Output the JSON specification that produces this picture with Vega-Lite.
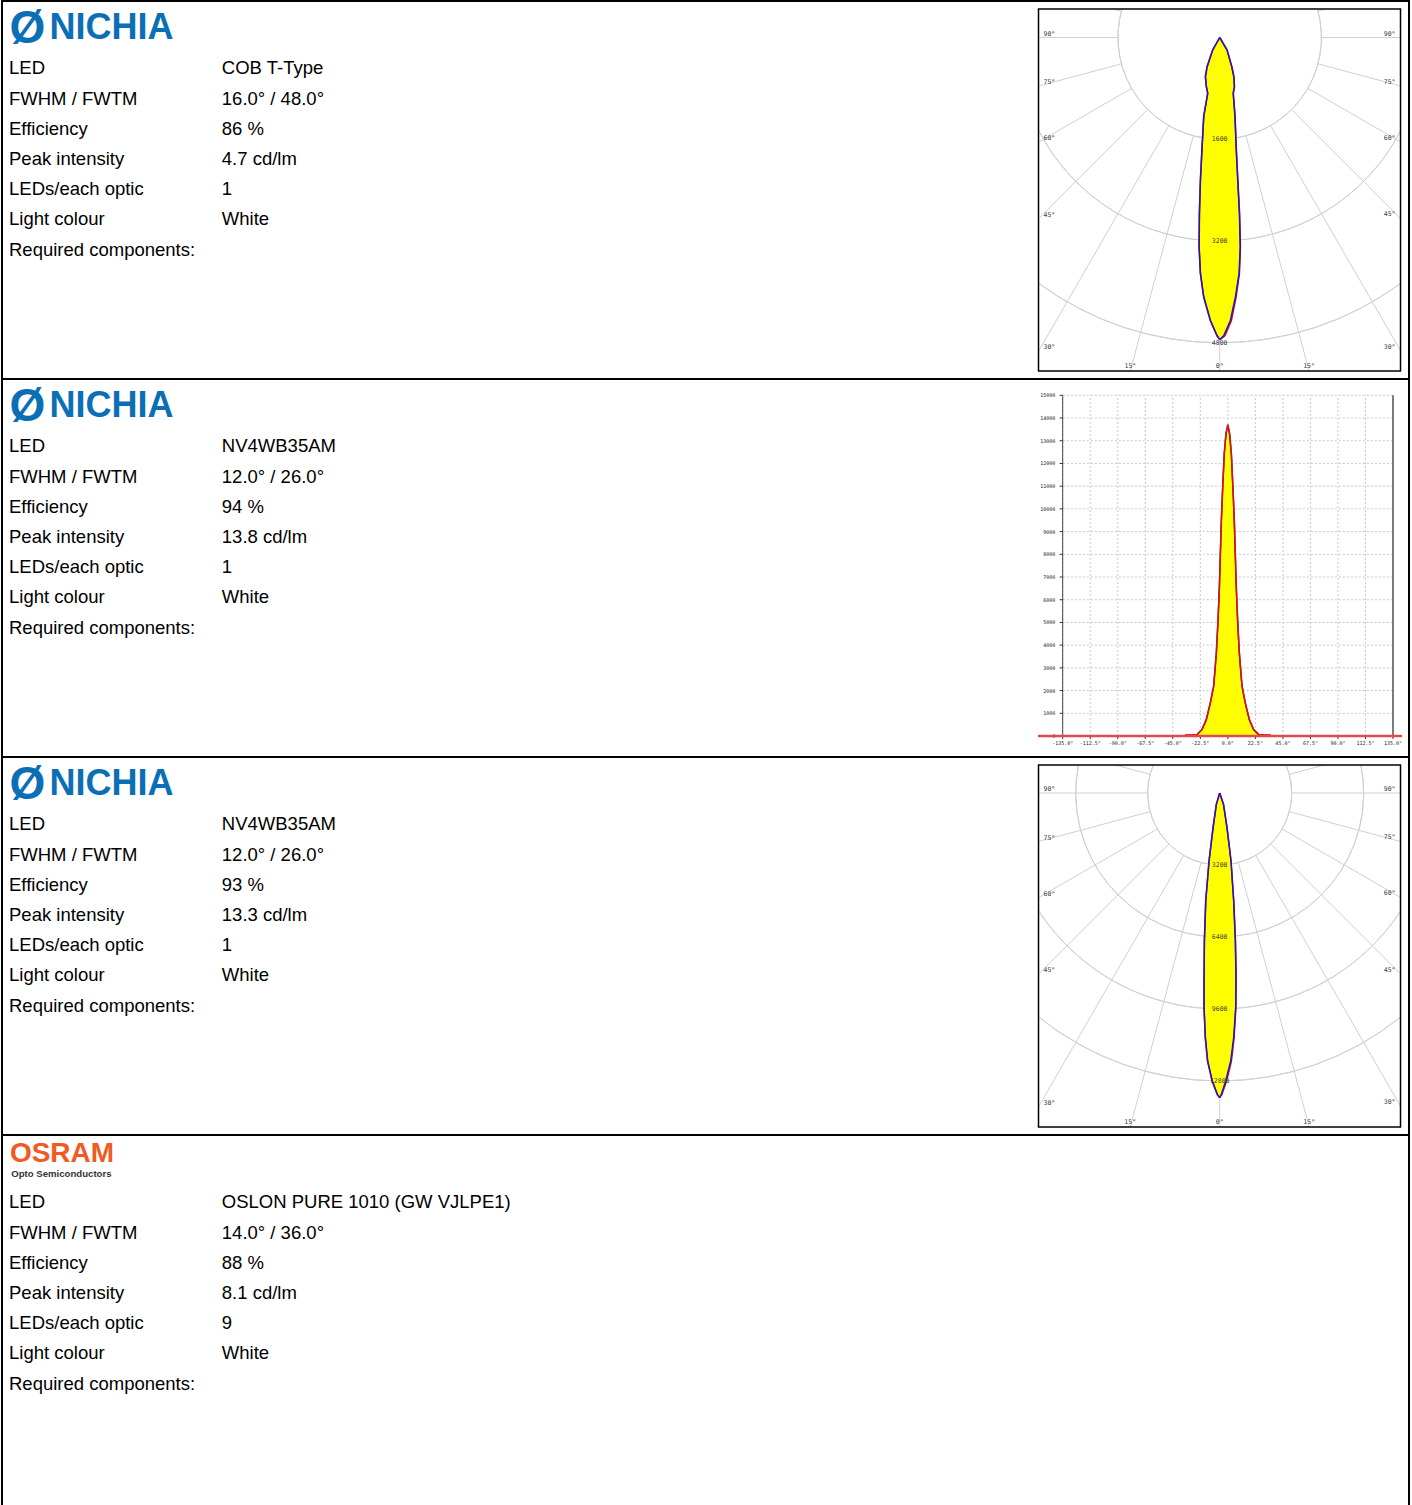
{
"$schema": "https://vega.github.io/schema/vega-lite/v6.json",
"background": "white",
"padding": {"left": 1, "top": 0, "right": 0, "bottom": 0},
"spacing": 0,
"bounds": "flush",
"config": {"view": {"stroke": null}, "font": "Liberation Sans"},
"datasets": {
"specs": [
{"product":1,"item":"LED","value":"COB T-Type"},
{"product":1,"item":"FWHM / FWTM","value":"16.0° / 48.0°"},
{"product":1,"item":"Efficiency","value":"86 %"},
{"product":1,"item":"Peak intensity","value":"4.7 cd/lm"},
{"product":1,"item":"LEDs/each optic","value":"1"},
{"product":1,"item":"Light colour","value":"White"},
{"product":1,"item":"Required components:","value":""},
{"product":2,"item":"LED","value":"NV4WB35AM"},
{"product":2,"item":"FWHM / FWTM","value":"12.0° / 26.0°"},
{"product":2,"item":"Efficiency","value":"94 %"},
{"product":2,"item":"Peak intensity","value":"13.8 cd/lm"},
{"product":2,"item":"LEDs/each optic","value":"1"},
{"product":2,"item":"Light colour","value":"White"},
{"product":2,"item":"Required components:","value":""},
{"product":3,"item":"LED","value":"NV4WB35AM"},
{"product":3,"item":"FWHM / FWTM","value":"12.0° / 26.0°"},
{"product":3,"item":"Efficiency","value":"93 %"},
{"product":3,"item":"Peak intensity","value":"13.3 cd/lm"},
{"product":3,"item":"LEDs/each optic","value":"1"},
{"product":3,"item":"Light colour","value":"White"},
{"product":3,"item":"Required components:","value":""},
{"product":4,"item":"LED","value":"OSLON PURE 1010 (GW VJLPE1)"},
{"product":4,"item":"FWHM / FWTM","value":"14.0° / 36.0°"},
{"product":4,"item":"Efficiency","value":"88 %"},
{"product":4,"item":"Peak intensity","value":"8.1 cd/lm"},
{"product":4,"item":"LEDs/each optic","value":"9"},
{"product":4,"item":"Light colour","value":"White"},
{"product":4,"item":"Required components:","value":""}
],
"brands": [
{"product":1,"part":"symbol","text":"Ø"},
{"product":1,"part":"name","text":"NICHIA"},
{"product":2,"part":"symbol","text":"Ø"},
{"product":2,"part":"name","text":"NICHIA"},
{"product":3,"part":"symbol","text":"Ø"},
{"product":3,"part":"name","text":"NICHIA"},
{"product":4,"part":"name","text":"OSRAM"},
{"product":4,"part":"tagline","text":"Opto Semiconductors"}
],
"polar1Rings": [{"ring":1600,"from":73.7,"to":286.3},{"ring":3200,"from":117.3,"to":242.9},{"ring":4800,"from":143.7,"to":216.4}],
"polar3Rings": [{"ring":3200,"from":67.1,"to":292.9},{"ring":6400,"from":78.8,"to":281.2},{"ring":9600,"from":123.2,"to":237.0},{"ring":12800,"from":141.1,"to":219.0}],
"polar1Grid": [
{"angle":-105,"label":"105°","edge":"top","x1":-1545.5,"y1":-414.1,"x2":-1672,"y2":-448},
{"angle":-90,"label":"90°","edge":"left","x1":-1600,"y1":0,"x2":-2849,"y2":0},
{"angle":-75,"label":"75°","edge":"left","x1":-1545.5,"y1":414.1,"x2":-2849,"y2":763.4},
{"angle":-60,"label":"60°","edge":"left","x1":-1385.6,"y1":800,"x2":-2849,"y2":1644.9},
{"angle":-45,"label":"45°","edge":"left","x1":-1131.4,"y1":1131.4,"x2":-2849,"y2":2849},
{"angle":-30,"label":"30°","edge":"left","x1":-800,"y1":1385.6,"x2":-2849,"y2":4934.6},
{"angle":-15,"label":"15°","edge":"bottom","x1":-414.1,"y1":1545.5,"x2":-1405,"y2":5244},
{"angle":0,"label":"0°","edge":"bottom","x1":0,"y1":1600,"x2":0,"y2":5244},
{"angle":15,"label":"15°","edge":"bottom","x1":414.1,"y1":1545.5,"x2":1405,"y2":5244},
{"angle":30,"label":"30°","edge":"right","x1":800,"y1":1385.6,"x2":2843,"y2":4924},
{"angle":45,"label":"45°","edge":"right","x1":1131.4,"y1":1131.4,"x2":2843,"y2":2843},
{"angle":60,"label":"60°","edge":"right","x1":1385.6,"y1":800,"x2":2843,"y2":1641.5},
{"angle":75,"label":"75°","edge":"right","x1":1545.5,"y1":414.1,"x2":2843,"y2":761.8},
{"angle":90,"label":"90°","edge":"right","x1":1600,"y1":0,"x2":2843,"y2":0},
{"angle":105,"label":"105°","edge":"top","x1":1545.5,"y1":-414.1,"x2":1672,"y2":-448}
],
"polar3Grid": [
{"angle":-105,"label":"105°","edge":"top","x1":-3091,"y1":-828.2,"x2":-4643,"y2":-1244},
{"angle":-90,"label":"90°","edge":"left","x1":-3200,"y1":0,"x2":-8053,"y2":0},
{"angle":-75,"label":"75°","edge":"left","x1":-3091,"y1":828.2,"x2":-8053,"y2":2158},
{"angle":-60,"label":"60°","edge":"left","x1":-2771.3,"y1":1600,"x2":-8053,"y2":4649},
{"angle":-45,"label":"45°","edge":"left","x1":-2262.7,"y1":2262.7,"x2":-8053,"y2":8053},
{"angle":-30,"label":"30°","edge":"left","x1":-1600,"y1":2771.3,"x2":-8053,"y2":13948},
{"angle":-15,"label":"15°","edge":"bottom","x1":-828.2,"y1":3091,"x2":-3977,"y2":14844},
{"angle":0,"label":"0°","edge":"bottom","x1":0,"y1":3200,"x2":0,"y2":14844},
{"angle":15,"label":"15°","edge":"bottom","x1":828.2,"y1":3091,"x2":3977,"y2":14844},
{"angle":30,"label":"30°","edge":"right","x1":1600,"y1":2771.3,"x2":8036,"y2":13919},
{"angle":45,"label":"45°","edge":"right","x1":2262.7,"y1":2262.7,"x2":8036,"y2":8036},
{"angle":60,"label":"60°","edge":"right","x1":2771.3,"y1":1600,"x2":8036,"y2":4640},
{"angle":75,"label":"75°","edge":"right","x1":3091,"y1":828.2,"x2":8036,"y2":2153},
{"angle":90,"label":"90°","edge":"right","x1":3200,"y1":0,"x2":8036,"y2":0},
{"angle":105,"label":"105°","edge":"top","x1":3091,"y1":-828.2,"x2":4643,"y2":-1244}
],
"polar1Lobe": [
{"series":"C0-C180","depth":0,"left":0,"right":0},
{"series":"C0-C180","depth":194,"left":-110,"right":115},
{"series":"C0-C180","depth":460,"left":-199,"right":190},
{"series":"C0-C180","depth":614,"left":-226,"right":222},
{"series":"C0-C180","depth":772,"left":-210,"right":231},
{"series":"C0-C180","depth":877,"left":-189,"right":212},
{"series":"C0-C180","depth":1240,"left":-252,"right":240},
{"series":"C0-C180","depth":1720,"left":-278,"right":258},
{"series":"C0-C180","depth":2240,"left":-304,"right":283},
{"series":"C0-C180","depth":2770,"left":-320,"right":310},
{"series":"C0-C180","depth":3290,"left":-325,"right":323},
{"series":"C0-C180","depth":3710,"left":-304,"right":305},
{"series":"C0-C180","depth":4080,"left":-252,"right":247},
{"series":"C0-C180","depth":4450,"left":-147,"right":168},
{"series":"C0-C180","depth":4690,"left":-42,"right":63},
{"series":"C0-C180","depth":4750,"left":0,"right":0},
{"series":"C90-C270","depth":0,"left":0,"right":0},
{"series":"C90-C270","depth":194,"left":-108,"right":114},
{"series":"C90-C270","depth":460,"left":-197,"right":191},
{"series":"C90-C270","depth":614,"left":-224,"right":223},
{"series":"C90-C270","depth":772,"left":-209,"right":233},
{"series":"C90-C270","depth":877,"left":-188,"right":214},
{"series":"C90-C270","depth":1240,"left":-250,"right":242},
{"series":"C90-C270","depth":1720,"left":-276,"right":260},
{"series":"C90-C270","depth":2240,"left":-302,"right":286},
{"series":"C90-C270","depth":2770,"left":-318,"right":313},
{"series":"C90-C270","depth":3290,"left":-323,"right":326},
{"series":"C90-C270","depth":3710,"left":-302,"right":310},
{"series":"C90-C270","depth":4080,"left":-250,"right":258},
{"series":"C90-C270","depth":4450,"left":-146,"right":184},
{"series":"C90-C270","depth":4690,"left":-40,"right":82},
{"series":"C90-C270","depth":4750,"left":0,"right":0}
],
"polar3Lobe": [
{"series":"C0-C180","depth":0,"left":0,"right":0},
{"series":"C0-C180","depth":504,"left":-150,"right":170},
{"series":"C0-C180","depth":1541,"left":-296,"right":326},
{"series":"C0-C180","depth":3022,"left":-474,"right":504},
{"series":"C0-C180","depth":4800,"left":-622,"right":622},
{"series":"C0-C180","depth":6578,"left":-681,"right":696},
{"series":"C0-C180","depth":8207,"left":-696,"right":725},
{"series":"C0-C180","depth":9541,"left":-696,"right":711},
{"series":"C0-C180","depth":10874,"left":-637,"right":622},
{"series":"C0-C180","depth":11911,"left":-533,"right":489},
{"series":"C0-C180","depth":12800,"left":-341,"right":267},
{"series":"C0-C180","depth":13393,"left":-104,"right":74},
{"series":"C0-C180","depth":13541,"left":0,"right":0},
{"series":"C90-C270","depth":0,"left":0,"right":0},
{"series":"C90-C270","depth":504,"left":-148,"right":168},
{"series":"C90-C270","depth":1541,"left":-294,"right":324},
{"series":"C90-C270","depth":3022,"left":-472,"right":502},
{"series":"C90-C270","depth":4800,"left":-620,"right":624},
{"series":"C90-C270","depth":6578,"left":-680,"right":700},
{"series":"C90-C270","depth":8207,"left":-695,"right":730},
{"series":"C90-C270","depth":9541,"left":-697,"right":718},
{"series":"C90-C270","depth":10874,"left":-640,"right":640},
{"series":"C90-C270","depth":11911,"left":-545,"right":520},
{"series":"C90-C270","depth":12800,"left":-325,"right":305},
{"series":"C90-C270","depth":13393,"left":-112,"right":98},
{"series":"C90-C270","depth":13541,"left":0,"right":0}
],
"cart2Angles": [
{"angle":-135,"label":"-135.0°"},{"angle":-112.5,"label":"-112.5°"},{"angle":-90,"label":"-90.0°"},{"angle":-67.5,"label":"-67.5°"},{"angle":-45,"label":"-45.0°"},{"angle":-22.5,"label":"-22.5°"},{"angle":0,"label":"0.0°"},{"angle":22.5,"label":"22.5°"},{"angle":45,"label":"45.0°"},{"angle":67.5,"label":"67.5°"},{"angle":90,"label":"90.0°"},{"angle":112.5,"label":"112.5°"},{"angle":135,"label":"135.0°"}
],
"cart2Levels": [{"intensity":0},{"intensity":1000},{"intensity":2000},{"intensity":3000},{"intensity":4000},{"intensity":5000},{"intensity":6000},{"intensity":7000},{"intensity":8000},{"intensity":9000},{"intensity":10000},{"intensity":11000},{"intensity":12000},{"intensity":13000},{"intensity":14000},{"intensity":15000}],
"cart2": [
{"series":"C0-C180","angle":-35,"intensity":40},
{"series":"C0-C180","angle":-30,"intensity":45},
{"series":"C0-C180","angle":-25.2,"intensity":70},
{"series":"C0-C180","angle":-21.1,"intensity":290},
{"series":"C0-C180","angle":-17.6,"intensity":730},
{"series":"C0-C180","angle":-14.3,"intensity":1470},
{"series":"C0-C180","angle":-11.6,"intensity":2200},
{"series":"C0-C180","angle":-9.4,"intensity":3670},
{"series":"C0-C180","angle":-8.0,"intensity":5140},
{"series":"C0-C180","angle":-6.9,"intensity":6600},
{"series":"C0-C180","angle":-6.1,"intensity":8070},
{"series":"C0-C180","angle":-5.3,"intensity":9540},
{"series":"C0-C180","angle":-4.2,"intensity":11000},
{"series":"C0-C180","angle":-2.9,"intensity":12480},
{"series":"C0-C180","angle":-1.5,"intensity":13350},
{"series":"C0-C180","angle":0,"intensity":13720},
{"series":"C0-C180","angle":1.5,"intensity":13300},
{"series":"C0-C180","angle":2.9,"intensity":12400},
{"series":"C0-C180","angle":4.2,"intensity":10900},
{"series":"C0-C180","angle":5.3,"intensity":9450},
{"series":"C0-C180","angle":6.1,"intensity":8000},
{"series":"C0-C180","angle":6.9,"intensity":6550},
{"series":"C0-C180","angle":8.0,"intensity":5100},
{"series":"C0-C180","angle":9.4,"intensity":3650},
{"series":"C0-C180","angle":11.6,"intensity":2200},
{"series":"C0-C180","angle":14.3,"intensity":1450},
{"series":"C0-C180","angle":17.6,"intensity":720},
{"series":"C0-C180","angle":21.1,"intensity":280},
{"series":"C0-C180","angle":25.2,"intensity":70},
{"series":"C0-C180","angle":30,"intensity":45},
{"series":"C0-C180","angle":35,"intensity":40},
{"series":"C90-C270","angle":-35,"intensity":35},
{"series":"C90-C270","angle":-30,"intensity":40},
{"series":"C90-C270","angle":-25.2,"intensity":65},
{"series":"C90-C270","angle":-21.1,"intensity":280},
{"series":"C90-C270","angle":-17.6,"intensity":720},
{"series":"C90-C270","angle":-14.3,"intensity":1460},
{"series":"C90-C270","angle":-11.6,"intensity":2190},
{"series":"C90-C270","angle":-9.4,"intensity":3650},
{"series":"C90-C270","angle":-8.0,"intensity":5120},
{"series":"C90-C270","angle":-6.9,"intensity":6580},
{"series":"C90-C270","angle":-6.1,"intensity":8040},
{"series":"C90-C270","angle":-5.3,"intensity":9500},
{"series":"C90-C270","angle":-4.2,"intensity":10950},
{"series":"C90-C270","angle":-2.9,"intensity":12430},
{"series":"C90-C270","angle":-1.5,"intensity":13300},
{"series":"C90-C270","angle":0,"intensity":13680},
{"series":"C90-C270","angle":1.5,"intensity":13260},
{"series":"C90-C270","angle":2.9,"intensity":12380},
{"series":"C90-C270","angle":4.2,"intensity":10880},
{"series":"C90-C270","angle":5.3,"intensity":9420},
{"series":"C90-C270","angle":6.1,"intensity":7980},
{"series":"C90-C270","angle":6.9,"intensity":6530},
{"series":"C90-C270","angle":8.0,"intensity":5080},
{"series":"C90-C270","angle":9.4,"intensity":3630},
{"series":"C90-C270","angle":11.6,"intensity":2180},
{"series":"C90-C270","angle":14.3,"intensity":1440},
{"series":"C90-C270","angle":17.6,"intensity":710},
{"series":"C90-C270","angle":21.1,"intensity":275},
{"series":"C90-C270","angle":25.2,"intensity":65},
{"series":"C90-C270","angle":30,"intensity":40},
{"series":"C90-C270","angle":35,"intensity":35}
]
},
"vconcat": [
{
"width": 1407, "height": 378,
"view": {"stroke": "#000000", "strokeWidth": 2},
"resolve": {"scale": {"x": "independent", "y": "independent"}},
"layer": [
{"layer": [
{"data": {"name": "brands"}, "transform": [{"filter": "datum.product == 1 && datum.part == 'symbol'"}],
 "mark": {"type": "text", "align": "left", "baseline": "middle", "font": "Liberation Sans", "fontWeight": "bold", "fontSize": 46, "color": "#0b6fb6", "dx": 0.5, "dy": -9.5},
 "encoding": {"x": {"datum": "label", "type": "ordinal", "scale": {"type": "point", "domain": ["label","value"], "range": [7, 219.8], "padding": 0}, "axis": null},
  "y": {"datum": "logo", "type": "ordinal", "scale": {"type": "point", "domain": ["logo","LED","FWHM / FWTM","Efficiency","Peak intensity","LEDs/each optic","Light colour","Required components:"], "range": [37.3, 248.5], "padding": 0}, "axis": null},
  "text": {"field": "text"}}},
{"data": {"name": "brands"}, "transform": [{"filter": "datum.product == 1 && datum.part == 'name'"}],
 "mark": {"type": "text", "align": "left", "baseline": "middle", "font": "Liberation Sans", "fontWeight": "bold", "fontSize": 36, "color": "#0b6fb6", "dx": 40.6, "dy": -10},
 "encoding": {"x": {"datum": "label", "type": "ordinal", "axis": null}, "y": {"datum": "logo", "type": "ordinal", "axis": null}, "text": {"field": "text"}}},
{"data": {"name": "specs"}, "transform": [{"filter": "datum.product == 1"}],
 "mark": {"type": "text", "align": "left", "baseline": "middle", "font": "Liberation Sans", "fontSize": 18.5, "color": "#000000"},
 "encoding": {"x": {"datum": "label", "type": "ordinal", "axis": null}, "y": {"field": "item", "type": "ordinal", "axis": null}, "text": {"field": "item"}}},
{"data": {"name": "specs"}, "transform": [{"filter": "datum.product == 1"}],
 "mark": {"type": "text", "align": "left", "baseline": "middle", "font": "Liberation Sans", "fontSize": 18.5, "color": "#000000"},
 "encoding": {"x": {"datum": "value", "type": "ordinal", "axis": null}, "y": {"field": "item", "type": "ordinal", "axis": null}, "text": {"field": "value"}}}
]},
{"layer": [
{"data": {"name": "polar1Rings"},
 "mark": {"type": "arc", "filled": false, "color": "#d0d0d0", "strokeWidth": 1},
 "encoding": {
  "x": {"datum": 0, "type": "quantitative", "scale": {"domain": [-19146.2, 2976.4], "nice": false, "zero": false}, "axis": null},
  "y": {"datum": 0, "type": "quantitative", "scale": {"domain": [-573.9, 5369.5], "nice": false, "zero": false, "reverse": true}, "axis": null},
  "theta": {"field": "from", "type": "quantitative", "scale": {"domain": [0, 360]}},
  "theta2": {"field": "to"},
  "radius": {"field": "ring", "type": "quantitative", "scale": {"type": "linear", "domain": [0, 4800], "range": [0, 305.3]}},
  "radius2": {"field": "ring"}}},
{"data": {"name": "polar1Grid"},
 "mark": {"type": "rule", "color": "#d0d0d0", "strokeWidth": 1},
 "encoding": {"x": {"field": "x1", "type": "quantitative", "axis": null}, "y": {"field": "y1", "type": "quantitative", "axis": null}, "x2": {"field": "x2"}, "y2": {"field": "y2"}}},
{"data": {"name": "polar1Lobe"}, "transform": [{"filter": "datum.series == 'C0-C180'"}],
 "mark": {"type": "area", "orient": "horizontal", "color": "#ffff00", "opacity": 1},
 "encoding": {"y": {"field": "depth", "type": "quantitative", "axis": null}, "x": {"field": "left", "type": "quantitative", "axis": null}, "x2": {"field": "right"}}},
{"data": {"name": "polar1Lobe"}, "transform": [{"filter": "datum.series == 'C90-C270'"}, {"fold": ["left", "right"], "as": ["side", "xpos"]}],
 "mark": {"type": "line", "color": "#e00000", "strokeWidth": 1.5},
 "encoding": {"x": {"field": "xpos", "type": "quantitative", "axis": null}, "y": {"field": "depth", "type": "quantitative", "axis": null}, "detail": {"field": "side"}, "order": {"field": "depth", "type": "quantitative"}}},
{"data": {"name": "polar1Lobe"}, "transform": [{"filter": "datum.series == 'C0-C180'"}, {"fold": ["left", "right"], "as": ["side", "xpos"]}],
 "mark": {"type": "line", "color": "#1a1acc", "strokeWidth": 1.5},
 "encoding": {"x": {"field": "xpos", "type": "quantitative", "axis": null}, "y": {"field": "depth", "type": "quantitative", "axis": null}, "detail": {"field": "side"}, "order": {"field": "depth", "type": "quantitative"}}},
{"data": {"name": "polar1Rings"},
 "mark": {"type": "text", "align": "center", "baseline": "middle", "font": "DejaVu Sans Mono", "fontSize": 6.5, "color": "#404040"},
 "encoding": {"x": {"datum": 0, "type": "quantitative", "axis": null}, "y": {"field": "ring", "type": "quantitative", "axis": null}, "text": {"field": "ring", "type": "quantitative", "format": "d"}}},
{"data": {"name": "polar1Grid"}, "transform": [{"filter": "datum.edge == 'left'"}],
 "mark": {"type": "text", "align": "left", "baseline": "bottom", "dx": 5, "dy": -1, "font": "DejaVu Sans Mono", "fontSize": 6.5, "color": "#404040"},
 "encoding": {"x": {"field": "x2", "type": "quantitative", "axis": null}, "y": {"field": "y2", "type": "quantitative", "axis": null}, "text": {"field": "label"}}},
{"data": {"name": "polar1Grid"}, "transform": [{"filter": "datum.edge == 'right'"}],
 "mark": {"type": "text", "align": "right", "baseline": "bottom", "dx": -5, "dy": -1, "font": "DejaVu Sans Mono", "fontSize": 6.5, "color": "#404040"},
 "encoding": {"x": {"field": "x2", "type": "quantitative", "axis": null}, "y": {"field": "y2", "type": "quantitative", "axis": null}, "text": {"field": "label"}}},
{"data": {"name": "polar1Grid"}, "transform": [{"filter": "datum.edge == 'bottom'"}],
 "mark": {"type": "text", "align": "center", "baseline": "bottom", "dy": -2, "font": "DejaVu Sans Mono", "fontSize": 6.5, "color": "#404040"},
 "encoding": {"x": {"field": "x2", "type": "quantitative", "axis": null}, "y": {"field": "y2", "type": "quantitative", "axis": null}, "text": {"field": "label"}}},
{"data": {"values": [{"frame": "box"}]},
 "mark": {"type": "rect", "filled": false, "color": "#000000", "strokeWidth": 1.5},
 "encoding": {"x": {"datum": -2849, "type": "quantitative", "axis": null}, "x2": {"datum": 2843}, "y": {"datum": -448, "type": "quantitative", "axis": null}, "y2": {"datum": 5244}}}
]}
]
},
{
"width": 1407, "height": 378,
"view": {"stroke": "#000000", "strokeWidth": 2},
"resolve": {"scale": {"x": "independent", "y": "independent"}},
"layer": [
{"layer": [
{"data": {"name": "brands"}, "transform": [{"filter": "datum.product == 2 && datum.part == 'symbol'"}],
 "mark": {"type": "text", "align": "left", "baseline": "middle", "font": "Liberation Sans", "fontWeight": "bold", "fontSize": 46, "color": "#0b6fb6", "dx": 0.5, "dy": -9.5},
 "encoding": {"x": {"datum": "label", "type": "ordinal", "scale": {"type": "point", "domain": ["label","value"], "range": [7, 219.8], "padding": 0}, "axis": null},
  "y": {"datum": "logo", "type": "ordinal", "scale": {"type": "point", "domain": ["logo","LED","FWHM / FWTM","Efficiency","Peak intensity","LEDs/each optic","Light colour","Required components:"], "range": [37.3, 248.5], "padding": 0}, "axis": null},
  "text": {"field": "text"}}},
{"data": {"name": "brands"}, "transform": [{"filter": "datum.product == 2 && datum.part == 'name'"}],
 "mark": {"type": "text", "align": "left", "baseline": "middle", "font": "Liberation Sans", "fontWeight": "bold", "fontSize": 36, "color": "#0b6fb6", "dx": 40.6, "dy": -10},
 "encoding": {"x": {"datum": "label", "type": "ordinal", "axis": null}, "y": {"datum": "logo", "type": "ordinal", "axis": null}, "text": {"field": "text"}}},
{"data": {"name": "specs"}, "transform": [{"filter": "datum.product == 2"}],
 "mark": {"type": "text", "align": "left", "baseline": "middle", "font": "Liberation Sans", "fontSize": 18.5, "color": "#000000"},
 "encoding": {"x": {"datum": "label", "type": "ordinal", "axis": null}, "y": {"field": "item", "type": "ordinal", "axis": null}, "text": {"field": "item"}}},
{"data": {"name": "specs"}, "transform": [{"filter": "datum.product == 2"}],
 "mark": {"type": "text", "align": "left", "baseline": "middle", "font": "Liberation Sans", "fontSize": 18.5, "color": "#000000"},
 "encoding": {"x": {"datum": "value", "type": "ordinal", "axis": null}, "y": {"field": "item", "type": "ordinal", "axis": null}, "text": {"field": "value"}}}
]},
{"layer": [
{"data": {"name": "cart2Levels"},
 "mark": {"type": "rule", "color": "#c8c8c8", "strokeWidth": 1, "strokeDash": [2, 2]},
 "encoding": {
  "x": {"datum": -135, "type": "quantitative", "scale": {"domain": [-1002.06, 148.08], "nice": false, "zero": false}, "axis": null},
  "x2": {"datum": 135},
  "y": {"field": "intensity", "type": "quantitative", "scale": {"domain": [-924.6, 15717.7], "nice": false, "zero": false}, "axis": null}}},
{"data": {"name": "cart2Angles"},
 "mark": {"type": "rule", "color": "#c8c8c8", "strokeWidth": 1, "strokeDash": [2, 2]},
 "encoding": {"x": {"field": "angle", "type": "quantitative", "axis": null}, "y": {"datum": 0, "type": "quantitative", "axis": null}, "y2": {"datum": 15000}}},
{"data": {"name": "cart2"}, "transform": [{"filter": "datum.series == 'C0-C180'"}],
 "mark": {"type": "area", "color": "#ffff00", "opacity": 1},
 "encoding": {"x": {"field": "angle", "type": "quantitative", "axis": null}, "y": {"field": "intensity", "type": "quantitative", "axis": null}}},
{"data": {"name": "cart2"}, "transform": [{"filter": "datum.series == 'C90-C270'"}],
 "mark": {"type": "line", "color": "#2222bb", "strokeWidth": 1.5},
 "encoding": {"x": {"field": "angle", "type": "quantitative", "axis": null}, "y": {"field": "intensity", "type": "quantitative", "axis": null}}},
{"data": {"name": "cart2"}, "transform": [{"filter": "datum.series == 'C0-C180'"}],
 "mark": {"type": "line", "color": "#e01010", "strokeWidth": 1.5},
 "encoding": {"x": {"field": "angle", "type": "quantitative", "axis": null}, "y": {"field": "intensity", "type": "quantitative", "axis": null}}},
{"data": {"name": "cart2Levels"},
 "mark": {"type": "rule", "color": "#333333", "strokeWidth": 1},
 "encoding": {"x": {"datum": -137.5, "type": "quantitative", "axis": null}, "x2": {"datum": -135}, "y": {"field": "intensity", "type": "quantitative", "axis": null}}},
{"data": {"name": "cart2Angles"},
 "mark": {"type": "rule", "color": "#333333", "strokeWidth": 1},
 "encoding": {"x": {"field": "angle", "type": "quantitative", "axis": null}, "y": {"datum": 0, "type": "quantitative", "axis": null}, "y2": {"datum": -135}}},
{"data": {"name": "cart2Levels"},
 "mark": {"type": "text", "align": "right", "baseline": "middle", "dx": -7.5, "font": "DejaVu Sans Mono", "fontSize": 5, "color": "#222222"},
 "encoding": {"x": {"datum": -135, "type": "quantitative", "axis": null}, "y": {"field": "intensity", "type": "quantitative", "axis": null}, "text": {"field": "intensity", "type": "quantitative", "format": "d"}}},
{"data": {"name": "cart2Angles"},
 "mark": {"type": "text", "align": "center", "baseline": "top", "dy": 5, "font": "DejaVu Sans Mono", "fontSize": 5, "color": "#222222"},
 "encoding": {"x": {"field": "angle", "type": "quantitative", "axis": null}, "y": {"datum": 0, "type": "quantitative", "axis": null}, "text": {"field": "label"}}},
{"data": {"values": [{"frame": "left axis line"}]},
 "mark": {"type": "rule", "color": "#444444", "strokeWidth": 1},
 "encoding": {"x": {"datum": -135, "type": "quantitative", "axis": null}, "y": {"datum": 0, "type": "quantitative", "axis": null}, "y2": {"datum": 15000}}},
{"data": {"values": [{"frame": "right edge"}]},
 "mark": {"type": "rule", "color": "#555555", "strokeWidth": 1.5},
 "encoding": {"x": {"datum": 135, "type": "quantitative", "axis": null}, "y": {"datum": 0, "type": "quantitative", "axis": null}, "y2": {"datum": 15000}}},
{"data": {"values": [{"frame": "baseline"}]},
 "mark": {"type": "rule", "color": "#e8474a", "strokeWidth": 2.5},
 "encoding": {"x": {"datum": -155.2, "type": "quantitative", "axis": null}, "x2": {"datum": 142.4}, "y": {"datum": 0, "type": "quantitative", "axis": null}}}
]}
]
},
{
"width": 1407, "height": 378,
"view": {"stroke": "#000000", "strokeWidth": 2},
"resolve": {"scale": {"x": "independent", "y": "independent"}},
"layer": [
{"layer": [
{"data": {"name": "brands"}, "transform": [{"filter": "datum.product == 3 && datum.part == 'symbol'"}],
 "mark": {"type": "text", "align": "left", "baseline": "middle", "font": "Liberation Sans", "fontWeight": "bold", "fontSize": 46, "color": "#0b6fb6", "dx": 0.5, "dy": -9.5},
 "encoding": {"x": {"datum": "label", "type": "ordinal", "scale": {"type": "point", "domain": ["label","value"], "range": [7, 219.8], "padding": 0}, "axis": null},
  "y": {"datum": "logo", "type": "ordinal", "scale": {"type": "point", "domain": ["logo","LED","FWHM / FWTM","Efficiency","Peak intensity","LEDs/each optic","Light colour","Required components:"], "range": [37.3, 248.5], "padding": 0}, "axis": null},
  "text": {"field": "text"}}},
{"data": {"name": "brands"}, "transform": [{"filter": "datum.product == 3 && datum.part == 'name'"}],
 "mark": {"type": "text", "align": "left", "baseline": "middle", "font": "Liberation Sans", "fontWeight": "bold", "fontSize": 36, "color": "#0b6fb6", "dx": 40.6, "dy": -10},
 "encoding": {"x": {"datum": "label", "type": "ordinal", "axis": null}, "y": {"datum": "logo", "type": "ordinal", "axis": null}, "text": {"field": "text"}}},
{"data": {"name": "specs"}, "transform": [{"filter": "datum.product == 3"}],
 "mark": {"type": "text", "align": "left", "baseline": "middle", "font": "Liberation Sans", "fontSize": 18.5, "color": "#000000"},
 "encoding": {"x": {"datum": "label", "type": "ordinal", "axis": null}, "y": {"field": "item", "type": "ordinal", "axis": null}, "text": {"field": "item"}}},
{"data": {"name": "specs"}, "transform": [{"filter": "datum.product == 3"}],
 "mark": {"type": "text", "align": "left", "baseline": "middle", "font": "Liberation Sans", "fontSize": 18.5, "color": "#000000"},
 "encoding": {"x": {"datum": "value", "type": "ordinal", "axis": null}, "y": {"field": "item", "type": "ordinal", "axis": null}, "text": {"field": "value"}}}
]},
{"layer": [
{"data": {"name": "polar3Rings"},
 "mark": {"type": "arc", "filled": false, "color": "#d0d0d0", "strokeWidth": 1},
 "encoding": {
  "x": {"datum": 0, "type": "quantitative", "scale": {"domain": [-54120, 8413.3], "nice": false, "zero": false}, "axis": null},
  "y": {"datum": 0, "type": "quantitative", "scale": {"domain": [-1600, 15200], "nice": false, "zero": false, "reverse": true}, "axis": null},
  "theta": {"field": "from", "type": "quantitative", "scale": {"domain": [0, 360]}},
  "theta2": {"field": "to"},
  "radius": {"field": "ring", "type": "quantitative", "scale": {"type": "linear", "domain": [0, 12800], "range": [0, 288]}},
  "radius2": {"field": "ring"}}},
{"data": {"name": "polar3Grid"},
 "mark": {"type": "rule", "color": "#d0d0d0", "strokeWidth": 1},
 "encoding": {"x": {"field": "x1", "type": "quantitative", "axis": null}, "y": {"field": "y1", "type": "quantitative", "axis": null}, "x2": {"field": "x2"}, "y2": {"field": "y2"}}},
{"data": {"name": "polar3Lobe"}, "transform": [{"filter": "datum.series == 'C0-C180'"}],
 "mark": {"type": "area", "orient": "horizontal", "color": "#ffff00", "opacity": 1},
 "encoding": {"y": {"field": "depth", "type": "quantitative", "axis": null}, "x": {"field": "left", "type": "quantitative", "axis": null}, "x2": {"field": "right"}}},
{"data": {"name": "polar3Lobe"}, "transform": [{"filter": "datum.series == 'C90-C270'"}, {"fold": ["left", "right"], "as": ["side", "xpos"]}],
 "mark": {"type": "line", "color": "#e00000", "strokeWidth": 1.5},
 "encoding": {"x": {"field": "xpos", "type": "quantitative", "axis": null}, "y": {"field": "depth", "type": "quantitative", "axis": null}, "detail": {"field": "side"}, "order": {"field": "depth", "type": "quantitative"}}},
{"data": {"name": "polar3Lobe"}, "transform": [{"filter": "datum.series == 'C0-C180'"}, {"fold": ["left", "right"], "as": ["side", "xpos"]}],
 "mark": {"type": "line", "color": "#1a1acc", "strokeWidth": 1.5},
 "encoding": {"x": {"field": "xpos", "type": "quantitative", "axis": null}, "y": {"field": "depth", "type": "quantitative", "axis": null}, "detail": {"field": "side"}, "order": {"field": "depth", "type": "quantitative"}}},
{"data": {"name": "polar3Rings"},
 "mark": {"type": "text", "align": "center", "baseline": "middle", "font": "DejaVu Sans Mono", "fontSize": 6.5, "color": "#404040"},
 "encoding": {"x": {"datum": 0, "type": "quantitative", "axis": null}, "y": {"field": "ring", "type": "quantitative", "axis": null}, "text": {"field": "ring", "type": "quantitative", "format": "d"}}},
{"data": {"name": "polar3Grid"}, "transform": [{"filter": "datum.edge == 'left'"}],
 "mark": {"type": "text", "align": "left", "baseline": "bottom", "dx": 5, "dy": -1, "font": "DejaVu Sans Mono", "fontSize": 6.5, "color": "#404040"},
 "encoding": {"x": {"field": "x2", "type": "quantitative", "axis": null}, "y": {"field": "y2", "type": "quantitative", "axis": null}, "text": {"field": "label"}}},
{"data": {"name": "polar3Grid"}, "transform": [{"filter": "datum.edge == 'right'"}],
 "mark": {"type": "text", "align": "right", "baseline": "bottom", "dx": -5, "dy": -1, "font": "DejaVu Sans Mono", "fontSize": 6.5, "color": "#404040"},
 "encoding": {"x": {"field": "x2", "type": "quantitative", "axis": null}, "y": {"field": "y2", "type": "quantitative", "axis": null}, "text": {"field": "label"}}},
{"data": {"name": "polar3Grid"}, "transform": [{"filter": "datum.edge == 'bottom'"}],
 "mark": {"type": "text", "align": "center", "baseline": "bottom", "dy": -2, "font": "DejaVu Sans Mono", "fontSize": 6.5, "color": "#404040"},
 "encoding": {"x": {"field": "x2", "type": "quantitative", "axis": null}, "y": {"field": "y2", "type": "quantitative", "axis": null}, "text": {"field": "label"}}},
{"data": {"values": [{"frame": "box"}]},
 "mark": {"type": "rect", "filled": false, "color": "#000000", "strokeWidth": 1.5},
 "encoding": {"x": {"datum": -8053, "type": "quantitative", "axis": null}, "x2": {"datum": 8036}, "y": {"datum": -1244, "type": "quantitative", "axis": null}, "y2": {"datum": 14844}}}
]}
]
},
{
"width": 1407, "height": 378,
"view": {"stroke": "#000000", "strokeWidth": 2},
"layer": [
{"data": {"name": "brands"}, "transform": [{"filter": "datum.product == 4 && datum.part == 'name'"}],
 "mark": {"type": "text", "align": "left", "baseline": "middle", "font": "Liberation Sans", "fontWeight": "bold", "fontSize": 28, "color": "#f15a22", "dx": 0.9, "dy": -18.2},
 "encoding": {"x": {"datum": "label", "type": "ordinal", "scale": {"type": "point", "domain": ["label","value"], "range": [7, 219.8], "padding": 0}, "axis": null},
  "y": {"datum": "logo", "type": "ordinal", "scale": {"type": "point", "domain": ["logo","LED","FWHM / FWTM","Efficiency","Peak intensity","LEDs/each optic","Light colour","Required components:"], "range": [37.3, 248.5], "padding": 0}, "axis": null},
  "text": {"field": "text"}}},
{"data": {"name": "brands"}, "transform": [{"filter": "datum.product == 4 && datum.part == 'tagline'"}],
 "mark": {"type": "text", "align": "left", "baseline": "middle", "font": "Liberation Sans", "fontWeight": "bold", "fontSize": 9.6, "color": "#333333", "dx": 2.3, "dy": 1.3},
 "encoding": {"x": {"datum": "label", "type": "ordinal", "axis": null}, "y": {"datum": "logo", "type": "ordinal", "axis": null}, "text": {"field": "text"}}},
{"data": {"name": "specs"}, "transform": [{"filter": "datum.product == 4"}],
 "mark": {"type": "text", "align": "left", "baseline": "middle", "font": "Liberation Sans", "fontSize": 18.5, "color": "#000000"},
 "encoding": {"x": {"datum": "label", "type": "ordinal", "axis": null}, "y": {"field": "item", "type": "ordinal", "axis": null}, "text": {"field": "item"}}},
{"data": {"name": "specs"}, "transform": [{"filter": "datum.product == 4"}],
 "mark": {"type": "text", "align": "left", "baseline": "middle", "font": "Liberation Sans", "fontSize": 18.5, "color": "#000000"},
 "encoding": {"x": {"datum": "value", "type": "ordinal", "axis": null}, "y": {"field": "item", "type": "ordinal", "axis": null}, "text": {"field": "value"}}}
]
}
]
}
